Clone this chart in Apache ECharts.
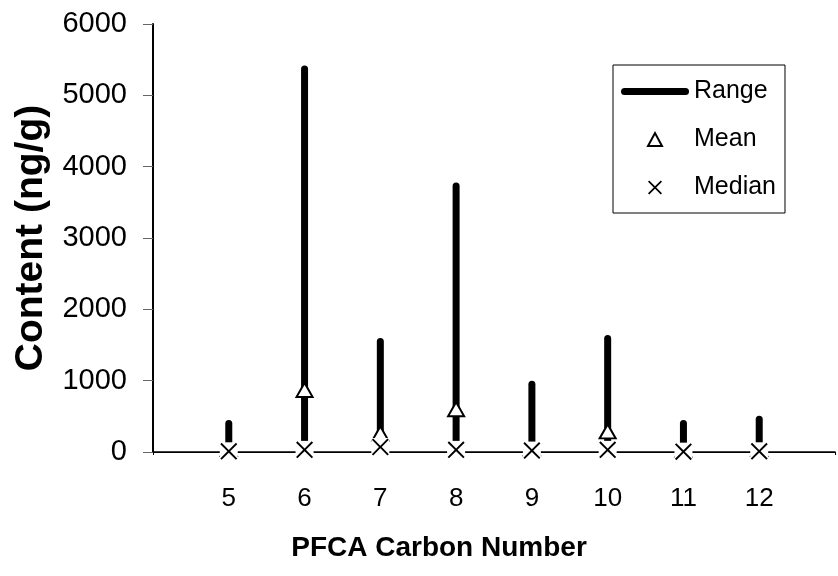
<!DOCTYPE html>
<html>
<head>
<meta charset="utf-8">
<script src="https://cdn.jsdelivr.net/npm/echarts@6/dist/echarts.min.js"></script>
<style>
html, body { margin: 0; padding: 0; background: #fff; }
#main { width: 838px; height: 576px; }
</style>
</head>
<body>
<div id="main"></div>
<script>
// PFCA carbon numbers
var carbonNumbers = [5, 6, 7, 8, 9, 10, 11, 12];
// range min / max (ng/g)
var rangeMin = [10, 20, 40, 20, 10, 20, 5, 10];
var rangeMax = [400, 5370, 1550, 3730, 950, 1590, 400, 460];
var meanValues = [40, 870, 260, 600, 50, 290, 30, 40];
var medianValues = [10, 30, 70, 30, 20, 30, 5, 10];
var yTicks = [0, 1000, 2000, 3000, 4000, 5000, 6000];

var font = '"Liberation Sans", Arial, sans-serif';
var xPath = 'path://M0,8 L8,0 L50,42 L92,0 L100,8 L58,50 L100,92 L92,100 L50,58 L8,100 L0,92 L42,50 Z';
// legend icons keep the 68x14 box through the corner points
var rangeIcon = 'path://M0,0 L0,0 M68,14 L68,14 M3.5,3.5 L64.5,3.5 A3.5,3.5 0 0 1 64.5,10.5 L3.5,10.5 A3.5,3.5 0 0 1 3.5,3.5 Z';
var meanIcon = 'path://M0,0 L0,0 M68,14 L68,14 M27,13.5 L34,0.5 L41,13.5 Z';
var medianIcon = 'path://M0,0 L0,0 M68,14 L68,14 M26.5,1.3 L27.8,0 L34,6.2 L40.2,0 L41.5,1.3 L35.3,7.5 L41.5,13.7 L40.2,15 L34,8.8 L27.8,15 L26.5,13.7 L32.7,7.5 Z';

var rangeData = carbonNumbers.map(function (c, i) { return [c, rangeMin[i], rangeMax[i]]; });
var meanData = carbonNumbers.map(function (c, i) { return [c, meanValues[i]]; });
var medianData = carbonNumbers.map(function (c, i) { return [c, medianValues[i]]; });

var chart = echarts.init(document.getElementById('main'));
chart.setOption({
    animation: false,
    backgroundColor: '#fff',
    textStyle: { fontFamily: font, color: '#000' },
    grid: { left: 153, top: 24, right: -10, bottom: 124 },
    legend: {
        orient: 'vertical',
        left: 613,
        top: 65,
        padding: [14, 9, 13, 7],
        itemWidth: 68,
        itemHeight: 14,
        itemGap: 23,
        borderColor: '#000',
        borderWidth: 1,
        textStyle: { fontFamily: font, fontSize: 25, color: '#000' },
        data: [
            { name: 'Range', icon: rangeIcon },
            { name: 'Mean', icon: meanIcon },
            { name: 'Median', icon: medianIcon }
        ]
    },
    xAxis: [{
        type: 'value',
        min: 4,
        max: 13,
        interval: 1,
        name: 'PFCA Carbon Number',
        nameLocation: 'middle',
        nameGap: 82,
        nameTextStyle: { fontFamily: font, fontSize: 28, fontWeight: 'bold', color: '#000', padding: [0, 110, 0, 0] },
        splitLine: { show: false },
        axisLine: { onZero: false, lineStyle: { color: '#000', width: 1 } },
        axisTick: { length: 3, lineStyle: { color: '#000' } },
        axisLabel: {
            margin: 34,
            fontSize: 26,
            color: '#000',
            formatter: function (v) { return carbonNumbers.indexOf(v) >= 0 ? String(v) : ''; }
        }
    }, {
        type: 'value',
        position: 'top',
        min: 4,
        max: 13,
        splitLine: { show: false },
        axisLine: { show: true, lineStyle: { color: '#000', width: 1.5 } },
        axisTick: { show: false },
        axisLabel: { show: false }
    }],
    yAxis: {
        type: 'value',
        min: yTicks[0],
        max: yTicks[yTicks.length - 1],
        interval: 1000,
        name: 'Content (ng/g)',
        nameLocation: 'middle',
        nameGap: 102,
        nameTextStyle: { fontFamily: font, fontSize: 39, fontWeight: 'bold', color: '#000' },
        splitLine: { show: false },
        axisLine: { show: true, lineStyle: { color: '#000', width: 2 } },
        axisTick: { length: 10, lineStyle: { color: '#666' } },
        axisLabel: { margin: 26, fontSize: 29, color: '#000', formatter: function (v) { return String(v); } }
    },
    series: [{
        name: 'Range',
        type: 'custom',
        itemStyle: { color: '#000' },
        encode: { x: 0, y: [1, 2] },
        data: rangeData,
        z: 2,
        renderItem: function (params, api) {
            var x = api.value(0);
            var p1 = api.coord([x, api.value(1)]);
            var p2 = api.coord([x, api.value(2)]);
            return {
                type: 'line',
                shape: { x1: p1[0], y1: p1[1], x2: p2[0], y2: p2[1] },
                style: { stroke: '#000', lineWidth: 7, lineCap: 'round' }
            };
        }
    }, {
        name: 'Mean',
        type: 'scatter',
        symbol: 'triangle',
        symbolSize: [16, 14],
        itemStyle: { color: '#fff', borderColor: '#000', borderWidth: 2, opacity: 1 },
        emphasis: { disabled: true },
        data: meanData,
        z: 3
    }, {
        name: 'medianBg',
        type: 'scatter',
        symbol: 'rect',
        symbolSize: 18,
        itemStyle: { color: '#fff', opacity: 1 },
        emphasis: { disabled: true },
        data: medianData,
        z: 4
    }, {
        name: 'Median',
        type: 'scatter',
        symbol: xPath,
        symbolSize: 17,
        itemStyle: { color: '#000', opacity: 1 },
        emphasis: { disabled: true },
        data: medianData,
        z: 5
    }]
});
</script>
</body>
</html>
